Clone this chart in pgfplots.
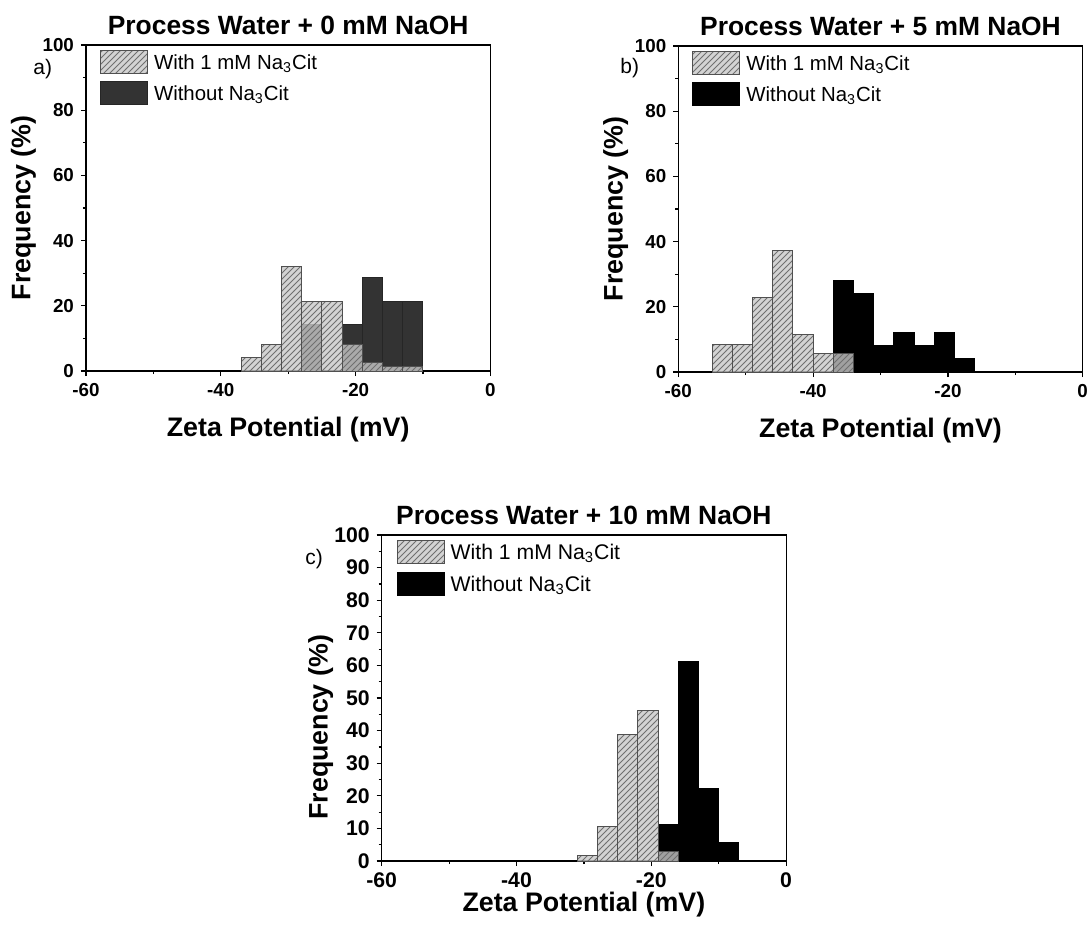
\documentclass[border=0pt]{standalone}
\usepackage{fontspec}
\setmainfont{Liberation Sans}
\usepackage{pgfplots}
\pgfplotsset{compat=1.18}
\usetikzlibrary{patterns}
\definecolor{lightfill}{HTML}{C8C8C8}
\definecolor{hatchcol}{HTML}{707070}
\definecolor{barline}{HTML}{505050}
\definecolor{darkA}{HTML}{333333}
\tikzset{
  lightbar/.style={fill=lightfill, fill opacity=0.8, draw=barline, line width=0.5pt,
    postaction={pattern=north east lines, pattern color=hatchcol, fill opacity=0.8}},
  darkbarA/.style={fill=darkA, draw=black!85, line width=0.5pt},
  darkbarB/.style={fill=black, draw=black, line width=0.5pt},
}
\pgfplotsset{
  zeta/.style={
    scale only axis, width=202.2pt, height=163pt,
    xmin=-60, xmax=0, ymin=0, ymax=100,
    xtick={-60,-40,-20,0}, minor x tick num=1,
    tick align=outside, xtick pos=bottom, ytick pos=left,
    major tick length=2.5pt, minor tick length=1.5pt,
    axis line style={line width=0.6pt},
    every tick/.style={line width=0.6pt, black},
    /pgf/number format/assume math mode=true,
    ticklabel style={font=\fontsize{9.4}{11}\selectfont\bfseries},
    label style={font=\fontsize{13.4}{16}\selectfont\bfseries},
    title style={font=\fontsize{13.2}{16}\selectfont\bfseries, at={(0.5,1)}, anchor=base, yshift=-0.7pt},
    xlabel={Zeta Potential (mV)},
    ylabel={Frequency (\%)},
    xlabel style={at={(axis description cs:0.5,0)}, anchor=north, inner sep=0pt, yshift=-22.8pt},
    ylabel style={at={(axis description cs:-0.1547,0.5)}, anchor=center, inner sep=0pt},
    legend image code/.code={\draw[##1] (0pt,-5.75pt) rectangle (23.5pt,5.75pt);},
    legend cell align=left,
    legend style={anchor=north west, draw=none, fill=none, inner sep=0pt, outer sep=0pt,
      column sep=3pt, row sep=3.5pt, nodes={inner sep=0pt, text depth=0pt},
      font=\fontsize{10.2}{12}\selectfont},
  }
}
\begin{document}
\begin{tikzpicture}
\useasboundingbox (0,0) rectangle (545.5pt,-469.5pt);

% ---------- panel a ----------
\begin{axis}[zeta, at={(43pt,-22.5pt)}, anchor=north west,
  ytick={0,20,...,100}, minor y tick num=1,
  title={Process Water + 0 mM NaOH},
  legend style={at={(axis description cs:0.0347,0.985)}}]
\addlegendimage{lightbar}
\addlegendentry{With 1 mM Na\textsubscript{3}Cit}
\addlegendimage{darkbarA}
\addlegendentry{Without Na\textsubscript{3}Cit}
\addplot[darkbarA, ybar interval, forget plot] coordinates {
 (-28,14.29) (-25,0) (-22,14.29) (-19,28.57) (-16,21.43) (-13,21.43) (-10,0)};
\addplot[lightbar, ybar interval, forget plot] coordinates {
 (-37,4.0) (-34,8.0) (-31,32.0) (-28,21.33) (-25,21.33) (-22,8.0) (-19,2.67) (-16,1.33) (-13,1.33) (-10,0)};
\end{axis}

% ---------- panel b ----------
\begin{axis}[zeta, at={(339.15pt,-23pt)}, anchor=north west,
  ytick={0,20,...,100}, minor y tick num=1,
  title={Process Water + 5 mM NaOH},
  legend style={at={(axis description cs:0.0347,0.985)}}]
\addlegendimage{lightbar}
\addlegendentry{With 1 mM Na\textsubscript{3}Cit}
\addlegendimage{darkbarB}
\addlegendentry{Without Na\textsubscript{3}Cit}
\addplot[darkbarB, ybar interval, forget plot] coordinates {
 (-37,28) (-34,24) (-31,8) (-28,12) (-25,8) (-22,12) (-19,4) (-16,0)};
\addplot[lightbar, ybar interval, forget plot] coordinates {
 (-55,8.57) (-52,8.57) (-49,22.86) (-46,37.14) (-43,11.43) (-40,5.71) (-37,5.71) (-34,0)};
\end{axis}

% ---------- panel c ----------
\begin{axis}[zeta, at={(190.85pt,-267.5pt)}, anchor=north west,
  ytick={0,10,...,100}, minor y tick num=1,
  ticklabel style={font=\fontsize{10.6}{12}\selectfont\bfseries},
  title={Process Water + 10 mM NaOH},
  xlabel style={yshift=7.3pt},
  ylabel style={at={(axis description cs:-0.151,0.41)}},
  legend style={at={(axis description cs:0.037,0.985)}, row sep=4pt, font=\fontsize{10.6}{12}\selectfont}]
\addlegendimage{lightbar}
\addlegendentry{With 1 mM Na\textsubscript{3}Cit}
\addlegendimage{darkbarB}
\addlegendentry{Without Na\textsubscript{3}Cit}
\addplot[darkbarB, ybar interval, forget plot] coordinates {
 (-19,11.11) (-16,61.11) (-13,22.22) (-10,5.56) (-7,0)};
\addplot[lightbar, ybar interval, forget plot] coordinates {
 (-31,1.6) (-28,10.5) (-25,38.8) (-22,46.2) (-19,2.9) (-16,0)};
\end{axis}

\node[anchor=west, inner sep=0pt, font=\fontsize{10.5}{12}\selectfont] at (16.5pt,-34.5pt) {a)};
\node[anchor=west, inner sep=0pt, font=\fontsize{10.5}{12}\selectfont] at (310pt,-34pt) {b)};
\node[anchor=west, inner sep=0pt, font=\fontsize{10.5}{12}\selectfont] at (152.5pt,-279.5pt) {c)};
\end{tikzpicture}
\end{document}
